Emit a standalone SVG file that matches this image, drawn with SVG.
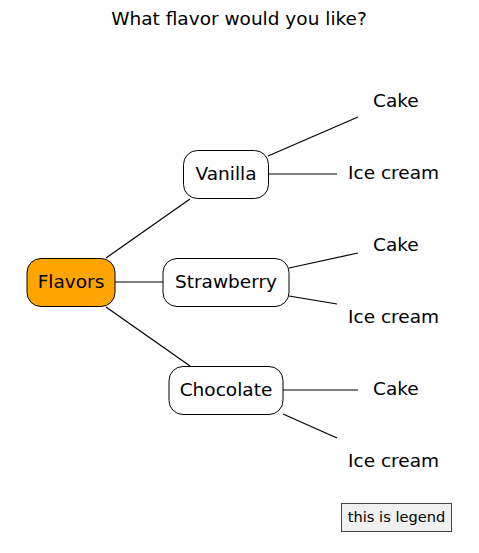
<svg xmlns="http://www.w3.org/2000/svg" width="479" height="553" viewBox="0 0 479 553">
<style>
text{font-family:"DejaVu Sans","Liberation Sans",sans-serif;fill:#000}
.n{fill:#fff;stroke:#000;stroke-width:1}
.t{font-size:18.5px;text-anchor:middle}
.l{font-size:18.5px}
.c line{stroke:#000;stroke-width:1.2}
</style>
<rect width="479" height="553" fill="#fff"/>
<text x="239" y="25" class="t">What flavor would you like?</text>
<g class="c" id="connectors">
<line x1="106" y1="258" x2="190" y2="199"/>
<line x1="115" y1="282" x2="163" y2="282"/>
<line x1="106" y1="307" x2="190" y2="366"/>
<line x1="268" y1="156" x2="358" y2="117"/>
<line x1="269" y1="174" x2="337" y2="174"/>
<line x1="289" y1="268" x2="358" y2="253"/>
<line x1="289" y1="296" x2="337" y2="304"/>
<line x1="283" y1="390" x2="358" y2="390"/>
<line x1="283" y1="414" x2="337" y2="438"/>
</g>
<g id="flavors"><rect x="27" y="258.5" width="88" height="48" rx="14" fill="#ffa500" stroke="#000"/><text x="71" y="288" class="t">Flavors</text></g>
<g id="vanilla"><rect x="183.5" y="150.5" width="85" height="48" rx="14" class="n"/><text x="226" y="180" class="t">Vanilla</text></g>
<g id="strawberry"><rect x="163" y="258.5" width="126" height="48" rx="14" class="n"/><text x="226" y="288" class="t">Strawberry</text></g>
<g id="chocolate"><rect x="169" y="366.5" width="114" height="48" rx="14" class="n"/><text x="226" y="396" class="t">Chocolate</text></g>
<g id="v-cake"><text x="373" y="107" class="l">Cake</text></g>
<g id="v-ice"><text x="348" y="179" class="l">Ice cream</text></g>
<g id="s-cake"><text x="373" y="251" class="l">Cake</text></g>
<g id="s-ice"><text x="348" y="323" class="l">Ice cream</text></g>
<g id="c-cake"><text x="373" y="395" class="l">Cake</text></g>
<g id="c-ice"><text x="348" y="467" class="l">Ice cream</text></g>
<g id="legend"><rect x="341.5" y="503.5" width="110" height="28" fill="#f0f0f0" stroke="#444"/><text x="396.5" y="522" font-size="14.6" text-anchor="middle">this is legend</text></g>
</svg>
